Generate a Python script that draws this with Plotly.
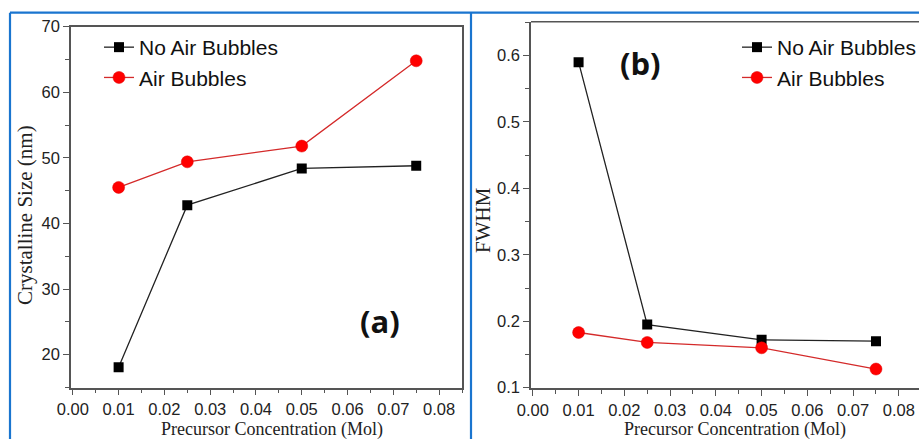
import plotly.graph_objects as go

# ---- data ----
conc = [0.01, 0.025, 0.05, 0.075]
size_no_air = [18.1, 42.8, 48.4, 48.8]
size_air = [45.5, 49.4, 51.8, 64.8]
fwhm_no_air = [0.590, 0.195, 0.172, 0.170]
fwhm_air = [0.183, 0.168, 0.160, 0.128]
series_names = ["No Air Bubbles", "Air Bubbles"]
x_title = "Precursor Concentration (Mol)"

W, H = 919, 439
def px(x):
    return x / W
def py(y):
    return 1 - y / H

BLACK = "#000000"
RED_M = "#ff0000"
RED_L = "#d42a2a"
AX = "#555555"
TXT = "#222222"
BLUE = "#1a75cf"

fig = go.Figure()

def add_pair(xa, ya, y_no, y_air, leg):
    fig.add_trace(go.Scatter(
        x=conc, y=y_no, mode="lines+markers", name=series_names[0],
        xaxis=xa, yaxis=ya, legend=leg,
        line=dict(color="#222222", width=1.3),
        marker=dict(symbol="square", size=10, color=BLACK, line=dict(color=BLACK, width=0))))
    fig.add_trace(go.Scatter(
        x=conc, y=y_air, mode="lines+markers", name=series_names[1],
        xaxis=xa, yaxis=ya, legend=leg,
        line=dict(color=RED_L, width=1.3),
        marker=dict(symbol="circle", size=12, color=RED_M, line=dict(color="#e00000", width=0.5))))

add_pair("x", "y", size_no_air, size_air, "legend")
add_pair("x2", "y2", fwhm_no_air, fwhm_air, "legend2")

tickfont = dict(family="Liberation Sans, Arial", size=16.5, color=TXT)
serif = "Liberation Serif, Times New Roman"

def xaxis_cfg(domain, rng, mirror):
    return dict(
        domain=domain, range=rng,
        tickmode="linear", tick0=0, dtick=0.01, tickformat=".2f",
        ticks="outside", ticklen=6, tickwidth=1.2, tickcolor=AX,
        minor=dict(ticks="outside", ticklen=4, dtick=0.005, tickwidth=1, tickcolor=AX),
        showline=True, linecolor=AX, linewidth=1.6, mirror=mirror,
        showgrid=False, zeroline=False, tickfont=tickfont, automargin=False,
    )

def yaxis_cfg(domain, rng, dtick, minor, mirror):
    return dict(
        domain=domain, range=rng,
        tickmode="linear", dtick=dtick,
        ticks="outside", ticklen=6, tickwidth=1.2, tickcolor=AX,
        minor=dict(ticks="outside", ticklen=4, dtick=minor, tickwidth=1, tickcolor=AX),
        showline=True, linecolor=AX, linewidth=1.6, mirror=mirror,
        showgrid=False, zeroline=False, tickfont=tickfont, automargin=False,
    )

xa = xaxis_cfg([px(71), px(462)], [-0.0004, 0.085], True)
xa["anchor"] = "y"
xb = xaxis_cfg([px(531), 1.0], [-0.0004, 0.0844], False)
xb["anchor"] = "y2"
ya = yaxis_cfg([py(387.5), py(26.7)], [15, 70], 10, 5, True)
ya["anchor"] = "x"
ya["tick0"] = 20
yb = yaxis_cfg([py(388.3), py(21.7)], [0.099, 0.651], 0.1, 0.05, False)
yb["anchor"] = "x2"
yb["tick0"] = 0.1
yb["tickformat"] = ".1f"

legfont = dict(family="Liberation Sans, Arial", size=21, color="#111111")

fig.update_layout(
    width=W, height=H,
    margin=dict(l=0, r=0, t=0, b=0, autoexpand=False),
    paper_bgcolor="white", plot_bgcolor="white",
    xaxis=xa, yaxis=ya, xaxis2=xb, yaxis2=yb,
    legend=dict(x=px(99), y=py(27), xanchor="left", yanchor="top",
                bgcolor="rgba(0,0,0,0)", borderwidth=0, font=legfont,
                tracegroupgap=0, itemclick=False),
    legend2=dict(x=px(737), y=py(27), xanchor="left", yanchor="top",
                 bgcolor="rgba(0,0,0,0)", borderwidth=0, font=legfont,
                 tracegroupgap=0, itemclick=False),
    showlegend=True,
    annotations=[
        dict(text=x_title, x=px(272), y=py(429), xref="paper", yref="paper",
             showarrow=False, font=dict(family=serif, size=18, color=TXT),
             xanchor="center", yanchor="middle"),
        dict(text=x_title, x=px(735), y=py(429), xref="paper", yref="paper",
             showarrow=False, font=dict(family=serif, size=18, color=TXT),
             xanchor="center", yanchor="middle"),
        dict(text="Crystalline Size (nm)", x=px(25), y=py(215), xref="paper", yref="paper",
             textangle=-90, showarrow=False, font=dict(family=serif, size=21, color=TXT),
             xanchor="center", yanchor="middle"),
        dict(text="FWHM", x=px(483), y=py(220), xref="paper", yref="paper",
             textangle=-90, showarrow=False, font=dict(family=serif, size=21, color=TXT),
             xanchor="center", yanchor="middle"),
        dict(text="<b>(a)</b>", x=px(380), y=py(321), xref="paper", yref="paper",
             showarrow=False, font=dict(family="Open Sans", size=31, color="#111111"),
             xanchor="center", yanchor="middle"),
        dict(text="<b>(b)</b>", x=px(640), y=py(63), xref="paper", yref="paper",
             showarrow=False, font=dict(family="Open Sans", size=31, color="#111111"),
             xanchor="center", yanchor="middle"),
    ],
    shapes=[
        dict(type="line", xref="paper", yref="paper", x0=px(10), x1=1.0, y0=py(12.7), y1=py(12.7),
             line=dict(color=BLUE, width=2.2)),
        dict(type="line", xref="paper", yref="paper", x0=px(10), x1=px(10), y0=py(12.7), y1=0,
             line=dict(color=BLUE, width=2.2)),
        dict(type="line", xref="paper", yref="paper", x0=px(471), x1=px(471), y0=py(12.7), y1=0,
             line=dict(color=BLUE, width=2.2)),
        dict(type="line", xref="x2 domain", yref="y2 domain", x0=0, x1=1, y0=1, y1=1,
             line=dict(color=AX, width=1.6)),
    ],
)

fig.write_html("out.html")
